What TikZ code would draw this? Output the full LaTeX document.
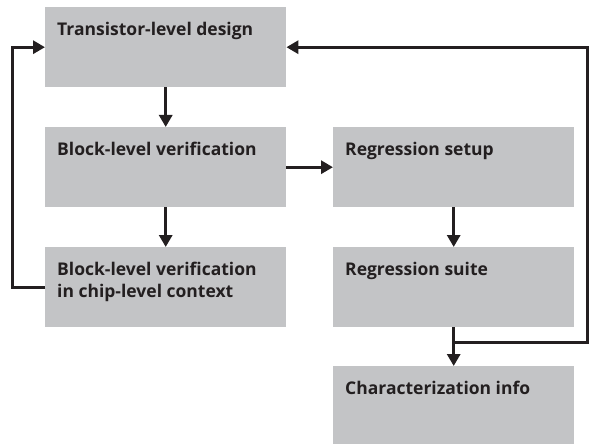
\documentclass[tikz,border=0pt]{standalone}
\usepackage{fontspec}
\setmainfont{Open Sans}
\usepackage{tikz}
\usepackage{xcolor}
\usetikzlibrary{arrows.meta,calc}
\definecolor{boxgrey}{RGB}{195,196,198}
\definecolor{inkblack}{RGB}{35,31,32}
\tikzset{
    grey-box/.style = {fill=boxgrey, rectangle, inner sep=0pt, minimum width=241pt, minimum height=80pt, anchor=north west},
    box-title/.style = {anchor=north west, inner xsep=12pt, inner ysep=15pt, align=left, text=inkblack, font=\fontsize{17.5}{22}\selectfont\bfseries},
    flow-line/.style = {draw=inkblack, line width=3pt},
    flow-arrow/.style = {flow-line, -{Triangle[length=12pt, width=13pt]}},
}

\begin{document}
\begin{tikzpicture}[x=1pt, y=-1pt]
\useasboundingbox (0,0) rectangle (590,444);
\node [grey-box, label={[box-title]north west:Transistor-level design}] (transistor) at (45,7) {};
\node [grey-box, label={[box-title]north west:Block-level verification}] (block) at (45,127) {};
\node [grey-box, label={[box-title]north west:Block-level verification\\in chip-level context}] (chip) at (45,247) {};
\node [grey-box, label={[box-title]north west:Regression setup}] (setup) at (333,127) {};
\node [grey-box, label={[box-title]north west:Regression suite}] (suite) at (333,247) {};
\node [grey-box, label={[box-title]north west:Characterization info}] (charact) at (333,366) {};

\draw [flow-arrow] (transistor) -- (block);
\draw [flow-arrow] (block) -- (chip);
\draw [flow-arrow] (block) -- (setup);
\draw [flow-arrow] (setup) -- (suite);
\draw [flow-arrow] (suite) -- (charact);

% feedback loops
\draw [flow-arrow] (chip.west) -- ++(-33,0) |- (transistor.west);
\coordinate (join) at ($(suite.south)+(0,15)$);
\draw [flow-arrow] (join) -- ++(134,0) |- (transistor.east);
\end{tikzpicture}
\end{document}
